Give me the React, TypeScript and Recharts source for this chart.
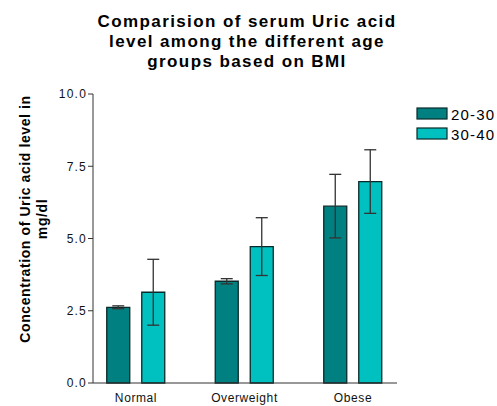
import { Bar, BarChart, Customized, ErrorBar, XAxis, YAxis } from "recharts"

const groups = ["Normal", "Overweight", "Obese"]
const seriesNames = ["20-30", "30-40"]
const young = [2.62, 3.52, 6.12]
const youngErr = [0.05, 0.09, 1.1]
const older = [3.14, 4.72, 6.97]
const olderErr = [1.14, 1.0, 1.1]
const yTicks = [0, 2.5, 5, 7.5, 10]
const titleLines = [
  "Comparision of serum Uric acid",
  "level among the different age",
  "groups based on BMI",
]
const yLabelLines = ["Concentration of Uric acid level in", "mg/dl"]

const colors = ["#008080", "#00C0C0"]
const font = "'Liberation Sans', Arial, sans-serif"

const data = groups.map((g, i) => ({
  group: g,
  young: young[i],
  youngErr: youngErr[i],
  older: older[i],
  olderErr: olderErr[i],
}))

function Decorations() {
  return (
    <g fontFamily={font}>
      {titleLines.map((t, i) => (
        <text
          key={t}
          x={247}
          y={21 + i * 20}
          textAnchor="middle"
          dominantBaseline="central"
          fontSize={17}
          letterSpacing={1.4}
          fontWeight="bold"
          fill="#000"
        >
          {t}
        </text>
      ))}
      {yLabelLines.map((t, i) => (
        <text
          key={t}
          x={0}
          y={0}
          transform={`translate(${25 + i * 17}, 219) rotate(-90)`}
          textAnchor="middle"
          dominantBaseline="central"
          fontSize={14}
          letterSpacing={0.6}
          fontWeight="bold"
          fill="#000"
        >
          {t}
        </text>
      ))}
      {seriesNames.map((n, i) => (
        <g key={n}>
          <rect
            x={417}
            y={108 + i * 20}
            width={30}
            height={11}
            fill={colors[i]}
            stroke="#0a2a2a"
            strokeWidth={1.2}
          />
          <text
            x={451}
            y={114 + i * 20}
            dominantBaseline="central"
            fontSize={15}
            letterSpacing={1.2}
            fill="#000"
          >
            {n}
          </text>
        </g>
      ))}
    </g>
  )
}

export default function App() {
  return (
    <div style={{ position: "absolute", left: 0, top: 0 }}>
      <BarChart
        width={497}
        height={406}
        data={data}
        margin={{ top: 94, right: 100, bottom: 3, left: 33 }}
        barSize={23}
        barGap={12}
      >
        <XAxis
          dataKey="group"
          height={20}
          padding={{ left: -11.25, right: -10.25 }}
          tickLine={false}
          tickSize={8}
          tickMargin={2}
          stroke="#333"
          tick={{ fill: "#111", fontSize: 12, letterSpacing: 0.6, fontFamily: font }}
        />
        <YAxis
          width={60}
          domain={[0, 10]}
          ticks={yTicks}
          tickFormatter={(v: number) => v.toFixed(1)}
          tickSize={5}
          tickMargin={1}
          stroke="#333"
          tick={{ fill: "#111", fontSize: 12, letterSpacing: 1.2, fontFamily: font }}
        />
        <Bar
          dataKey="young"
          fill={colors[0]}
          stroke="#0a2a2a"
          strokeWidth={1.3}
          isAnimationActive={false}
        >
          <ErrorBar dataKey="youngErr" width={6} stroke="#333" strokeWidth={1.3} />
        </Bar>
        <Bar
          dataKey="older"
          fill={colors[1]}
          stroke="#0a2a2a"
          strokeWidth={1.3}
          isAnimationActive={false}
        >
          <ErrorBar dataKey="olderErr" width={6} stroke="#333" strokeWidth={1.3} />
        </Bar>
        <Customized component={Decorations} />
      </BarChart>
    </div>
  )
}
